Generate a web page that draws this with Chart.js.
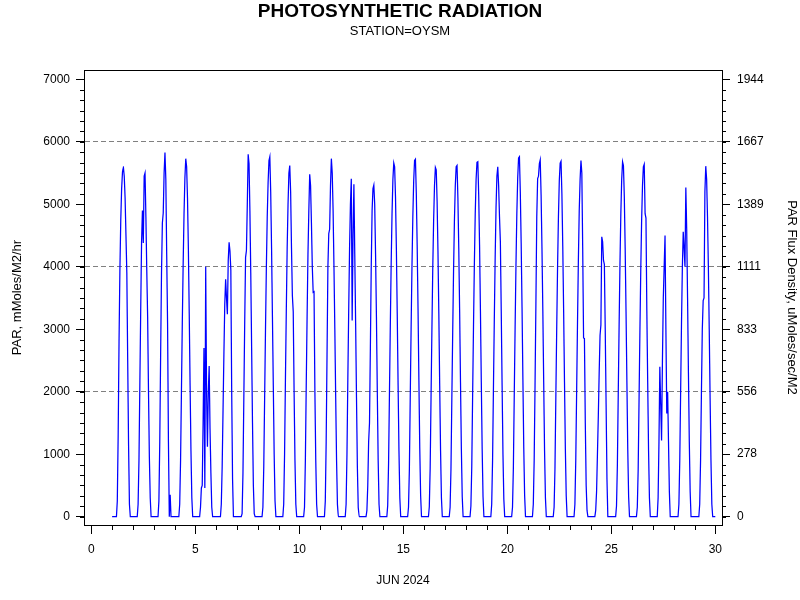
<!DOCTYPE html>
<html>
<head>
<meta charset="utf-8">
<script src="https://cdn.jsdelivr.net/npm/chart.js@4"></script>
<style>
  html, body { margin: 0; padding: 0; background: #fff; }
  canvas { display: block; }
</style>
</head>
<body>
<canvas id="parChart" width="800" height="600"></canvas>
<script>
// hourly PAR readings, mMoles/M2/hr, one row per day of June 2024 (hours 05..21)
const hours = [5, 6, 7, 8, 9, 10, 11, 12, 13, 14, 15, 16, 17, 18, 19, 20, 21];
const days = [1, 2, 3, 4, 5, 6, 7, 8, 9, 10, 11, 12, 13, 14, 15, 16, 17, 18, 19, 20, 21, 22, 23, 24, 25, 26, 27, 28, 29];
const parByDay = [
    [0, 250, 1300, 2800, 3950, 4750, 5250, 5520, 5600, 5450, 5100, 4500, 3900, 2500, 1150, 200, 0],
    [0, 200, 900, 2100, 3300, 4400, 4900, 4380, 5450, 5500, 4800, 3950, 3200, 2000, 950, 300, 0],
    [0, 250, 1200, 2600, 3900, 4700, 4860, 5500, 5830, 5400, 4200, 3100, 1200, 0, 350, 0, 0],
    [0, 200, 900, 2000, 3100, 4050, 4850, 5420, 5730, 5600, 5100, 4300, 3250, 2100, 1050, 300, 0],
    [0, 150, 460, 500, 1500, 2700, 460, 4000, 2000, 1120, 2000, 2410, 1400, 700, 150, 0, 0],
    [0, 200, 800, 1700, 2600, 3400, 3800, 3500, 3240, 4100, 4390, 4250, 3950, 2000, 600, 0, 0],
    [0, 50, 700, 1900, 3100, 4150, 4260, 5000, 5800, 5650, 4900, 3900, 2700, 1500, 500, 50, 0],
    [0, 150, 800, 1900, 3000, 4000, 4800, 5350, 5700, 5760, 5200, 4300, 3200, 2100, 1000, 250, 0],
    [0, 200, 1000, 2200, 3300, 4300, 5000, 5500, 5620, 5200, 4300, 3540, 3280, 2000, 900, 200, 0],
    [0, 150, 900, 2100, 3200, 4200, 4900, 5480, 5300, 4700, 4000, 3590, 3600, 2000, 900, 200, 0],
    [0, 250, 1200, 2600, 4000, 4530, 4600, 5300, 5730, 5500, 4900, 4000, 3000, 1900, 900, 200, 0],
    [0, 200, 1000, 2200, 3300, 4300, 5000, 5410, 3140, 4500, 5320, 4200, 3100, 1900, 800, 150, 0],
    [0, 100, 500, 1200, 1500, 2700, 4000, 4900, 5250, 5306, 5000, 4200, 3200, 2000, 900, 200, 0],
    [0, 180, 850, 1950, 3050, 4050, 4850, 5400, 5660, 5600, 5120, 4300, 3250, 2100, 1050, 300, 0],
    [0, 150, 750, 1900, 3000, 4000, 4800, 5380, 5700, 5720, 5180, 4350, 3330, 2180, 1090, 340, 0],
    [0, 160, 780, 1900, 2980, 3980, 4750, 5300, 5590, 5550, 5050, 4250, 3250, 2100, 1050, 300, 0],
    [0, 150, 760, 1880, 2950, 3950, 4750, 5300, 5600, 5620, 5100, 4300, 3300, 2150, 1080, 320, 0],
    [0, 170, 800, 1950, 3050, 4050, 4850, 5400, 5670, 5680, 5150, 4350, 3300, 2150, 1080, 320, 0],
    [0, 200, 900, 2050, 3150, 4150, 4950, 5450, 5600, 5300, 4800, 4400, 3300, 2100, 1000, 280, 0],
    [0, 150, 780, 1920, 3020, 4020, 4850, 5420, 5740, 5760, 5200, 4380, 3350, 2200, 1100, 340, 0],
    [0, 200, 900, 2100, 3400, 4800, 5410, 5450, 5650, 5710, 5150, 4300, 3300, 2150, 1050, 300, 0],
    [0, 150, 770, 1900, 3000, 4000, 4800, 5380, 5660, 5690, 5170, 4330, 3300, 2150, 1080, 330, 0],
    [0, 200, 900, 2000, 3100, 4100, 4900, 5400, 5700, 5500, 4300, 2860, 2850, 1500, 500, 100, 0],
    [0, 100, 400, 1000, 1600, 2300, 2900, 3070, 4480, 4400, 4100, 4040, 3000, 1800, 600, 0, 0],
    [0, 170, 820, 1950, 3050, 4050, 4850, 5400, 5680, 5620, 5130, 4300, 3280, 2150, 1070, 320, 0],
    [0, 150, 750, 1850, 2950, 3950, 4750, 5300, 5600, 5640, 4850, 4780, 3300, 2150, 1050, 300, 0],
    [0, 300, 1200, 2400, 1800, 1220, 2500, 3500, 4000, 4500, 3000, 1650, 2000, 1200, 400, 0, 0],
    [0, 200, 900, 2000, 3100, 4000, 4560, 4300, 4000, 5270, 4600, 3500, 2300, 1200, 400, 0, 0],
    [0, 200, 900, 2000, 3000, 3460, 3500, 5200, 5610, 5400, 4800, 4000, 3000, 1900, 900, 200, 0]
];
const recordStart = 1;   // June 1 00:00, reading 0
const recordEnd = 30;    // June 30 00:00, reading 0

const dayTicks = [0, 5, 10, 15, 20, 25, 30];
const parTicks = [0, 1000, 2000, 3000, 4000, 5000, 6000, 7000];
const fluxTicks = [0, 278, 556, 833, 1111, 1389, 1667, 1944];
const gridValues = [2000, 4000, 6000];
const PAR_PER_FLUX = 3.6; // mMoles/M2/hr per uMoles/sec/M2

// build x/y points: day of month + fraction of day
const points = [{x: recordStart, y: 0}];
days.forEach((d, i) => {
    hours.forEach((h, j) => points.push({x: d + h / 24, y: parByDay[i][j]}));
});
points.push({x: recordEnd, y: 0});

const FONT = "'Liberation Sans', Arial, Helvetica, sans-serif";
const yMin = -132.8, yMax = 7148.8;

// frame + minor tick marks (SAS-style axes)
const framePlugin = {
    id: 'frame',
    afterDraw(chart) {
        const {ctx, chartArea: a, scales: {x, y, y2}} = chart;
        ctx.save();
        ctx.strokeStyle = '#000';
        ctx.lineWidth = 1;
        ctx.strokeRect(Math.round(a.left) + 0.5, Math.round(a.top) + 0.5,
            Math.round(a.right) - Math.round(a.left), Math.round(a.bottom) - Math.round(a.top));
        ctx.beginPath();
        for (let d = 0; d <= 30; d++) {
            const px = Math.round(x.getPixelForValue(d)) + 0.5;
            ctx.moveTo(px, a.bottom);
            ctx.lineTo(px, a.bottom + 5);
        }
        for (let k = 0; k <= 42; k++) {
            const py = Math.round(y.getPixelForValue(k * 1000 / 6)) + 0.5;
            ctx.moveTo(a.left - 4, py);
            ctx.lineTo(a.left, py);
            const py2 = Math.round(y2.getPixelForValue(k * 1000 / 6 / PAR_PER_FLUX)) + 0.5;
            ctx.moveTo(a.right, py2);
            ctx.lineTo(a.right + 4, py2);
        }
        ctx.stroke();
        ctx.restore();
    }
};

const ctx = document.getElementById('parChart').getContext('2d');
const parChart = new Chart(ctx, {
    type: 'line',
    data: {
        datasets: [{
            label: 'PAR',
            data: points,
            borderColor: '#0000ff',
            borderWidth: 1.25,
            pointRadius: 0,
            fill: false,
            tension: 0.000001  // keeps the plain path instead of the per-pixel fast path
        }]
    },
    options: {
        responsive: false,
        animation: false,
        layout: { padding: 0 },
        plugins: {
            legend: { display: false },
            tooltip: { enabled: false },
            title: {
                display: true,
                text: 'PHOTOSYNTHETIC RADIATION',
                color: '#000',
                font: { family: FONT, size: 19, weight: 'bold' },
                padding: { top: 0, bottom: 0 }
            },
            subtitle: {
                display: true,
                text: 'STATION=OYSM',
                color: '#000',
                font: { family: FONT, size: 13 },
                padding: { top: 1, bottom: 30.6 }
            }
        },
        scales: {
            x: {
                type: 'linear',
                position: 'bottom',
                min: -0.351,
                max: 30.322,
                afterFit: s => { s.height = 75; },
                afterBuildTicks: s => { s.ticks = dayTicks.map(v => ({value: v})); },
                ticks: { autoSkip: false, maxRotation: 0, padding: 8, color: '#000', font: { family: FONT, size: 12 }, callback: v => String(v) },
                grid: { drawOnChartArea: false, drawTicks: true, tickLength: 9, tickColor: '#000' },
                border: { display: true, color: '#000', width: 1 },
                title: { display: true, text: 'JUN 2024', color: '#000', font: { family: FONT, size: 12 }, padding: { top: 0, bottom: 12 } }
            },
            y: {
                position: 'left',
                min: yMin,
                max: yMax,
                afterFit: s => { s.width = 84; },
                afterBuildTicks: s => { s.ticks = parTicks.map(v => ({value: v})); },
                ticks: { padding: 6, color: '#000', font: { family: FONT, size: 12 }, callback: v => String(v) },
                grid: {
                    drawOnChartArea: true,
                    drawTicks: true,
                    tickLength: 8,
                    tickColor: '#000',
                    color: c => gridValues.includes(c.tick && c.tick.value) ? '#808080' : 'rgba(0,0,0,0)'
                },
                border: { display: true, color: '#000', width: 1, dash: [5, 3] },
                title: { display: true, text: 'PAR, mMoles/M2/hr', color: '#000', font: { family: FONT, size: 13 }, padding: { top: 10, bottom: 0 } }
            },
            y2: {
                position: 'right',
                min: yMin / PAR_PER_FLUX,
                max: yMax / PAR_PER_FLUX,
                afterFit: s => { s.width = 78; },
                afterBuildTicks: s => { s.ticks = fluxTicks.map(v => ({value: v})); },
                ticks: { padding: 7, color: '#000', font: { family: FONT, size: 12 }, callback: v => String(v) },
                grid: { drawOnChartArea: false, drawTicks: true, tickLength: 8, tickColor: '#000' },
                border: { display: true, color: '#000', width: 1 },
                title: { display: true, text: 'PAR Flux Density, uMoles/sec/M2', color: '#000', font: { family: FONT, size: 13 }, padding: { top: 1, bottom: 0 } }
            }
        }
    },
    plugins: [framePlugin]
});
</script>
</body>
</html>
